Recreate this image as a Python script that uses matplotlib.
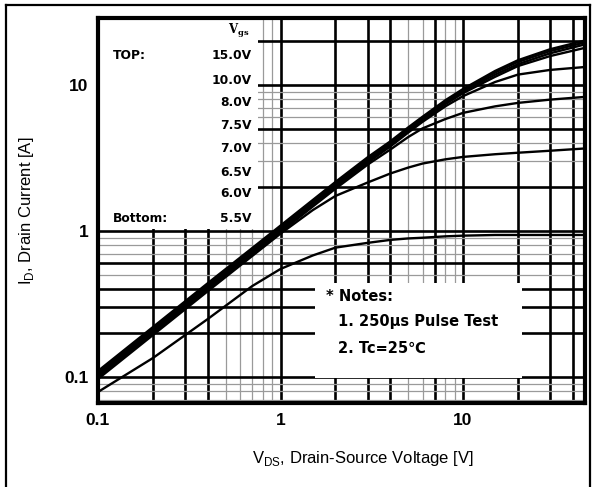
import matplotlib
matplotlib.use("Agg")
import matplotlib.pyplot as plt
from matplotlib.lines import Line2D
from matplotlib.patches import Rectangle

# Vds sample points [V] and drain current [A]
vds = [0.1, 0.2, 0.4, 0.7, 1, 1.5, 2, 3, 4, 5, 6, 8, 10, 15, 20, 30, 46.6]

id_15v = [0.11, 0.22, 0.44, 0.765, 1.09, 1.63, 2.17, 3.2, 4.12, 5.12, 6.07, 7.87, 9.4, 12.5, 14.8, 17.6, 20.2]
id_10v = [0.108, 0.215, 0.43, 0.75, 1.065, 1.6, 2.13, 3.13, 4.04, 5.02, 5.96, 7.73, 9.25, 12.2, 14.4, 17.1, 19.6]
id_8v = [0.105, 0.21, 0.42, 0.735, 1.04, 1.56, 2.08, 3.06, 3.96, 4.92, 5.85, 7.58, 9.05, 11.8, 13.9, 16.5, 19.0]
id_75v = [0.103, 0.206, 0.412, 0.72, 1.02, 1.53, 2.04, 3.0, 3.88, 4.82, 5.73, 7.4, 8.8, 11.4, 13.5, 15.8, 18.0]
id_7v = [0.101, 0.202, 0.404, 0.705, 1.0, 1.5, 2.0, 2.94, 3.8, 4.72, 5.6, 7.15, 8.4, 10.5, 11.8, 12.7, 13.3]
id_65v = [0.099, 0.198, 0.396, 0.69, 0.98, 1.47, 1.95, 2.85, 3.62, 4.4, 5.05, 5.85, 6.45, 7.15, 7.55, 7.95, 8.3]
id_6v = [0.097, 0.194, 0.388, 0.675, 0.96, 1.39, 1.74, 2.15, 2.48, 2.72, 2.9, 3.1, 3.22, 3.36, 3.44, 3.55, 3.68]
id_55v = [0.079, 0.135, 0.25, 0.42, 0.55, 0.68, 0.77, 0.83, 0.87, 0.89, 0.9, 0.92, 0.93, 0.94, 0.94, 0.94, 0.94]

curves = [id_15v, id_10v, id_8v, id_75v, id_7v, id_65v, id_6v, id_55v]

vgs_labels = ["15.0V", "10.0V", "8.0V", "7.5V", "7.0V", "6.5V", "6.0V", "5.5V"]
notes = ["* Notes:", "1. 250\u03bcs Pulse Test", "2. Tc=25\u2103"]

xticks = [0.1, 1, 10]
xtick_labels = ["0.1", "1", "10"]
yticks = [0.1, 1, 10]
ytick_labels = ["0.1", "1", "10"]

plt.rcParams["font.family"] = ["DejaVu Sans"]

fig = plt.figure(figsize=(5.95, 4.87), dpi=100)
ax = fig.add_axes([0.1647, 0.1725, 0.8185, 0.7905])
ax.set_xscale("log")
ax.set_yscale("log")
ax.set_xlim(0.1, 46.6)
ax.set_ylim(0.0664, 28.8)

# grid: heavy lines on some multiples, light grey on the rest
thick_x = {0.1: [2, 3, 4], 1: [2, 3, 4, 7], 10: [2, 3, 4]}
for dec, mults in thick_x.items():
    for m in range(1, 10):
        v = dec * m
        if v <= 0.1 or v >= 46.6:
            continue
        if m == 1 or m in mults:
            ax.axvline(v, color="black", lw=1.9, zorder=1)
        else:
            ax.axvline(v, color="#9a9a9a", lw=0.9, zorder=1)

thick_y = {0.01: [], 0.1: [2, 3, 4, 6], 1: [2, 5], 10: [2]}
for dec, mults in thick_y.items():
    for m in range(1, 10):
        v = dec * m
        if v <= 0.0664 or v >= 28.8:
            continue
        if m == 1 or m in mults:
            ax.axhline(v, color="black", lw=1.9, zorder=1)
        else:
            ax.axhline(v, color="#9a9a9a", lw=0.9, zorder=1)

# white boxes that hide the grid behind the text blocks
ax.add_patch(Rectangle((0, 0.452), 0.3285, 0.548, transform=ax.transAxes,
                       facecolor="white", edgecolor="none", zorder=2))
ax.add_patch(Rectangle((0.4456, 0.065), 0.425, 0.2467, transform=ax.transAxes,
                       facecolor="white", edgecolor="none", zorder=2))

for ids in curves:
    ax.plot(vds, ids, color="black", lw=1.7, zorder=3, solid_capstyle="round")

tick_font = ["Liberation Sans", "DejaVu Sans"]
ax.set_xticks(xticks)
ax.set_xticklabels(xtick_labels, fontweight="bold", fontsize=12.5, family=tick_font)
ax.set_yticks(yticks)
ax.set_yticklabels(ytick_labels, fontweight="bold", fontsize=12.5, family=tick_font)
ax.minorticks_off()
ax.tick_params(length=0, pad=7)
for s in ax.spines.values():
    s.set_linewidth(3)
    s.set_zorder(5)

label_font = ["Liberation Sans Narrow", "Liberation Sans", "DejaVu Sans"]
ax.set_xlabel(r"V$_\mathregular{DS}$, Drain-Source Voltage [V]", family=label_font,
              fontsize=12, labelpad=15, x=0.544)
ax.set_ylabel(r"I$_\mathregular{D}$, Drain Current [A]", family=label_font,
              fontsize=12, labelpad=20)

# legend block for Vgs
ax.text(0.31, 0.965, r"V$_\mathregular{gs}$", transform=ax.transAxes, ha="right",
        va="center", fontsize=8.5, fontweight="bold", family="DejaVu Serif", zorder=4)
label_y = [55, 80, 102, 125, 148, 172, 193, 218]
for lab, py in zip(vgs_labels, label_y):
    ax.text(0.316, (403 - py) / 385, lab, transform=ax.transAxes, ha="right",
            va="center", fontsize=8.8, fontweight="bold", zorder=4)
ax.text(0.031, (403 - 55) / 385, "TOP:", transform=ax.transAxes, ha="left",
        va="center", fontsize=8.8, fontweight="bold", zorder=4)
ax.text(0.031, (403 - 218) / 385, "Bottom:", transform=ax.transAxes, ha="left",
        va="center", fontsize=8.8, fontweight="bold", zorder=4)

# notes block
note_pos = [(0.468, 297), (0.493, 322), (0.493, 348)]
for txt, (fx, py) in zip(notes, note_pos):
    ax.text(fx, (403 - py) / 385, txt, transform=ax.transAxes, ha="left",
            va="center", fontsize=10.5, fontweight="bold", zorder=4)

# outer frame around the whole chart
fig.add_artist(Line2D([0.0101, 0.9916], [0.9897, 0.9897], color="black", lw=1.6))
fig.add_artist(Line2D([0.0101, 0.0101], [0.9897, 0.0], color="black", lw=1.6))
fig.add_artist(Line2D([0.9916, 0.9916], [0.9897, 0.0], color="black", lw=1.6))

fig.savefig("out.png", dpi=100)
